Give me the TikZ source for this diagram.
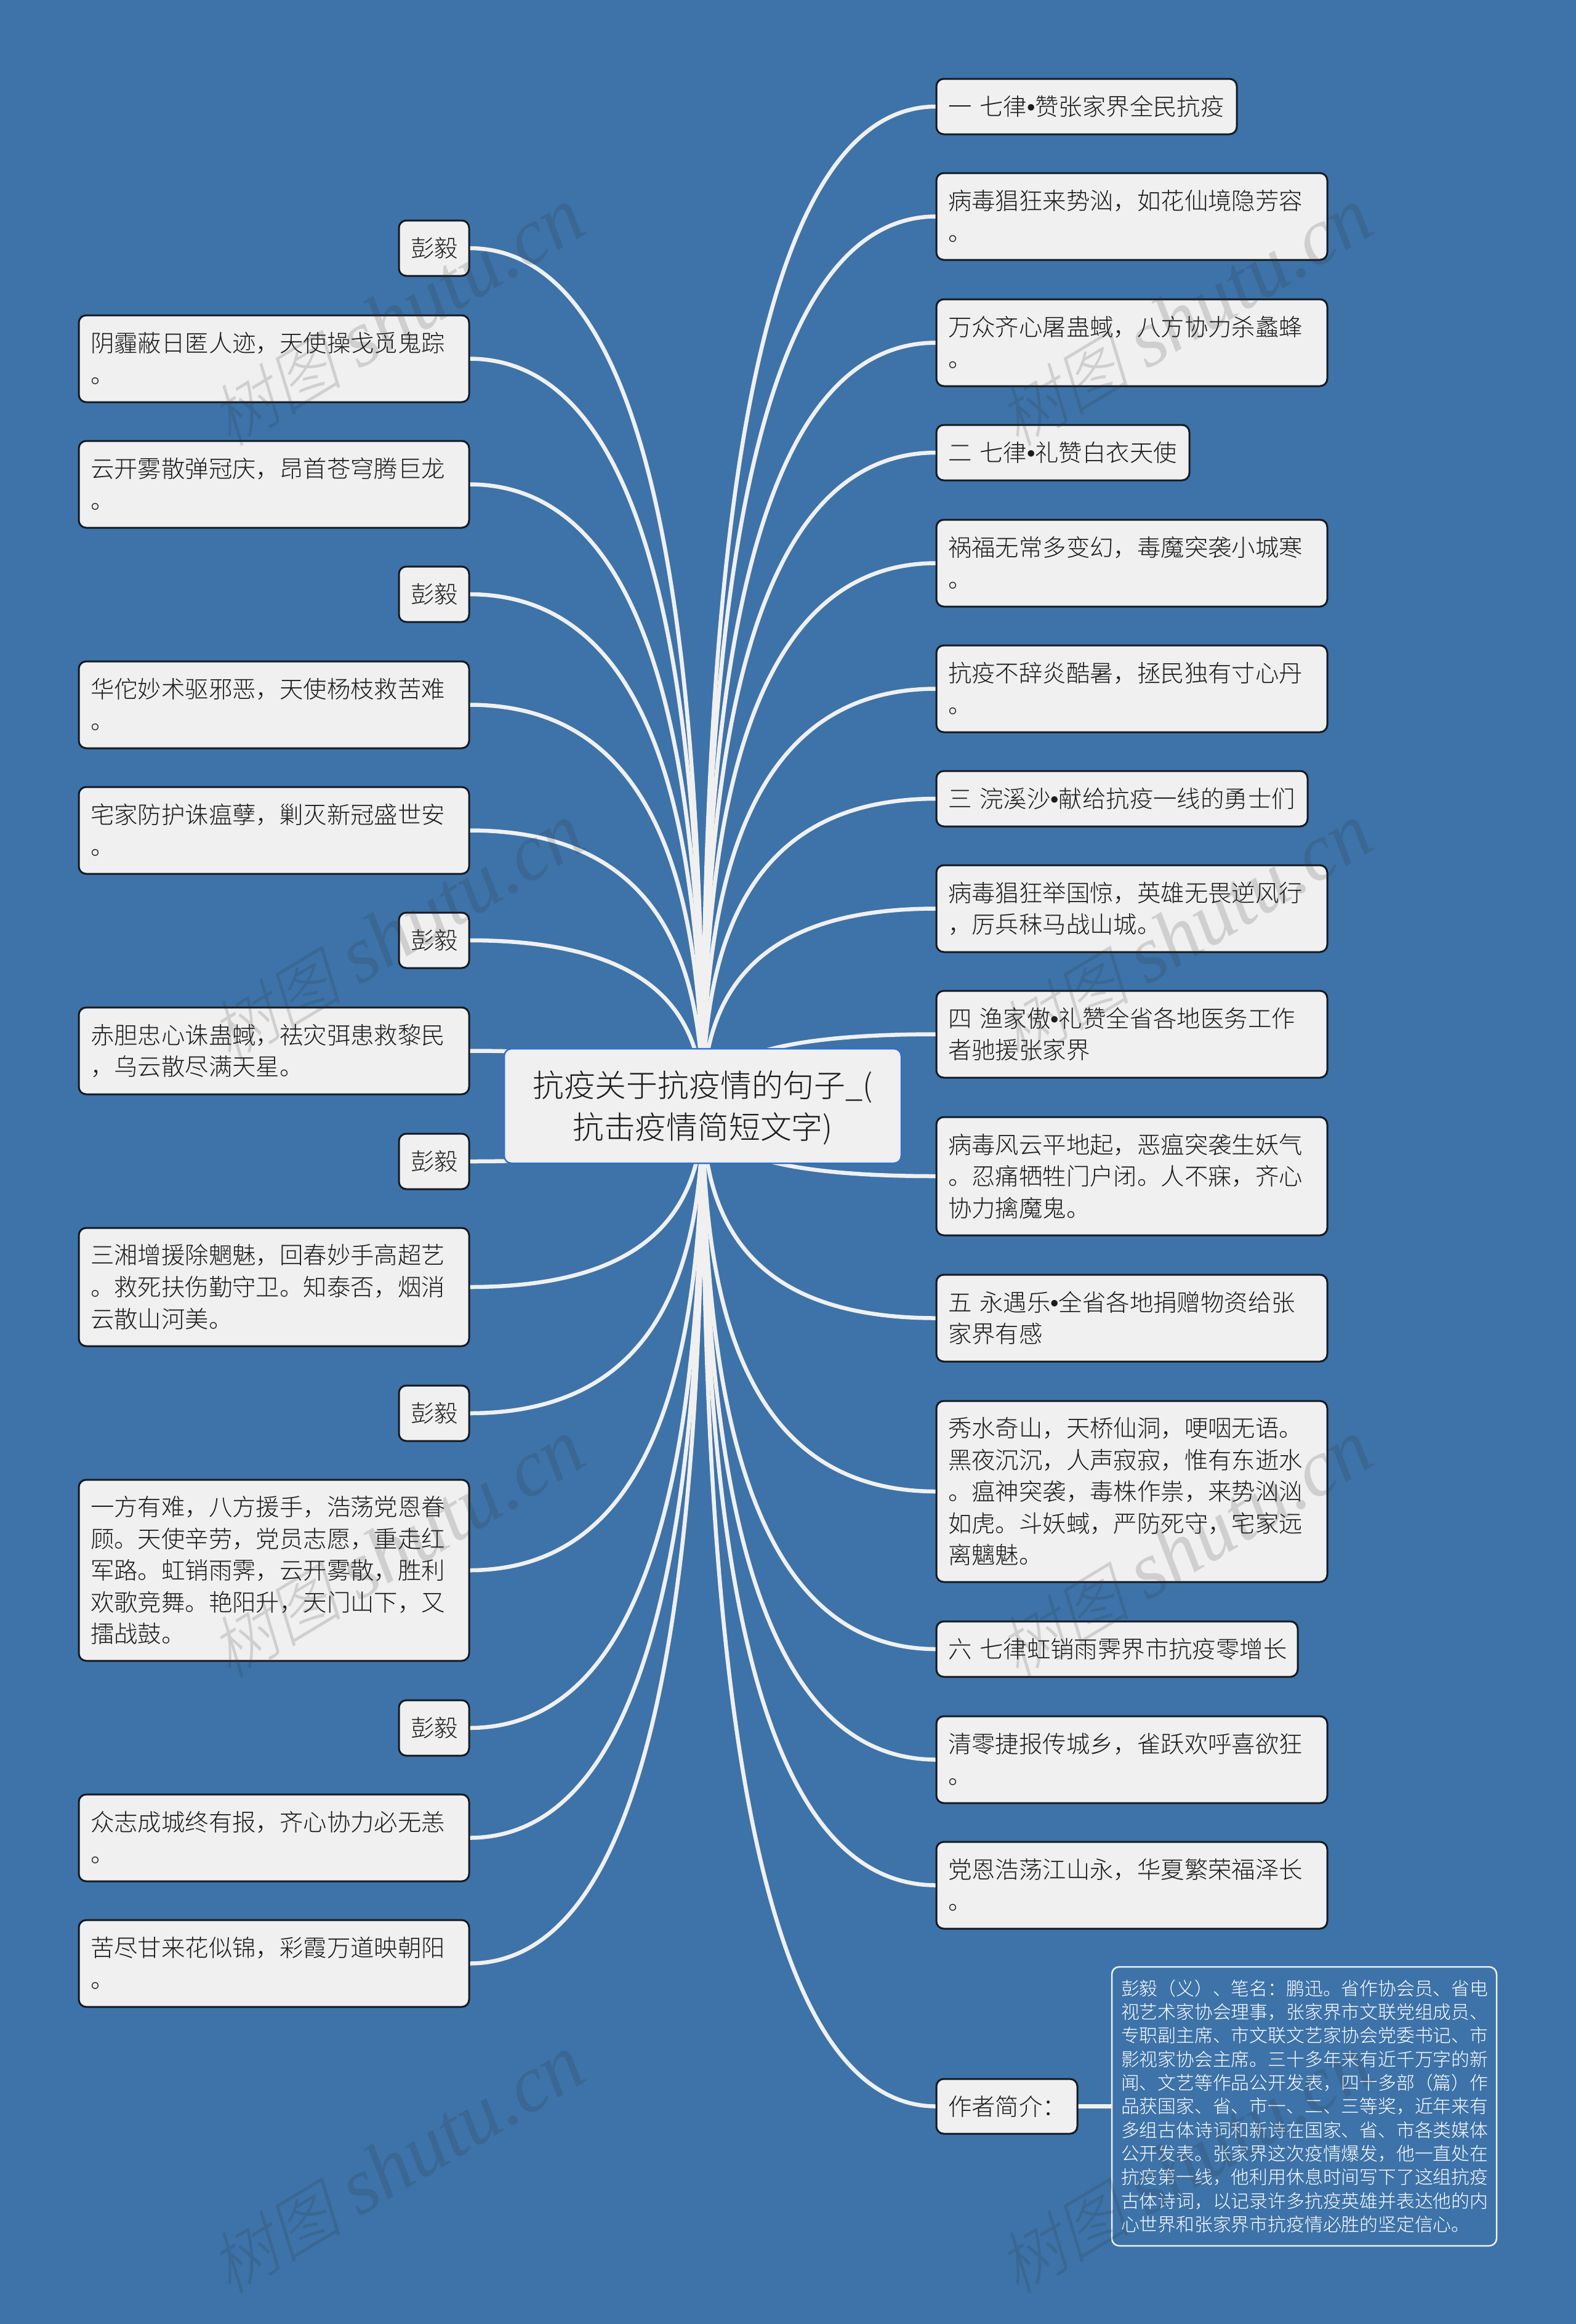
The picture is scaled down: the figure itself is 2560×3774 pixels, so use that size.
\documentclass[tikz,border=0pt]{standalone}
\usepackage{fontspec}
\setmainfont{Noto Sans CJK SC}[UprightFont=* Light]
\newfontfamily\wmcjk[FakeSlant=0.25]{Noto Sans CJK SC}[UprightFont=* Light]
\newfontfamily\wmlat{Liberation Serif Italic}
\newfontfamily\dotfont{Liberation Sans}
\newcommand\dt{{\dotfont •}}
\usetikzlibrary{calc,backgrounds}
\definecolor{bgblue}{HTML}{3D73A8}
\definecolor{boxfill}{HTML}{F0F0F0}
\definecolor{boxline}{HTML}{151A22}
\definecolor{inktext}{HTML}{1C1C1C}
\definecolor{rootline}{HTML}{2F70D0}
\definecolor{wmgray}{HTML}{303030}
\newcommand\mystrut{\rule[\dimexpr .38em-.5\baselineskip\relax]{0pt}{\baselineskip}}
\def\bxpad{0.38cm}
\tikzset{
  x=0.01cm,y=-0.01cm,
  basebox/.style={rectangle,rounded corners=0.12cm,inner ysep=0pt,align=left,outer sep=0pt},
  leaf/.style={basebox,draw=boxline,line width=0.03cm,fill=boxfill,text=inktext,inner xsep=0.19cm,
    font=\fontsize{10.92pt}{14.68pt}\selectfont},
  rootbox/.style={basebox,draw=rootline,line width=0.025cm,fill=boxfill,text=inktext,inner xsep=0.19cm,align=center,
    font=\fontsize{14.45pt}{19.35pt}\selectfont},
  biobox/.style={basebox,draw=boxfill,line width=0.025cm,fill=bgblue,text=white,inner xsep=0.15cm,
    font=\fontsize{8.48pt}{10.9pt}\selectfont},
  conn/.style={draw=boxfill,line width=0.065cm},
  wmark/.style={rotate=31,text=wmgray,text opacity=0.17,inner sep=0pt}
}
\newcommand\lnode[7]{% name style x1 y1 x2 y2 text
  \pgfmathsetlengthmacro\bxw{(#5-#3)*0.01cm}%
  \pgfmathsetlengthmacro\bxh{(#6-#4)*0.01cm}%
  \pgfmathsetlengthmacro\bxt{\bxw-\bxpad}%
  \pgfmathsetmacro\bxx{(#3+#5)/2}%
  \pgfmathsetmacro\bxy{(#4+#6)/2}%
  \node[#2,text width=\bxt,minimum width=\bxw,minimum height=\bxh] (#1) at (\bxx,\bxy) {\mystrut #7\mystrut};
}
\newcommand\linkR[1]{\draw[conn] (#1.west) .. controls ($(#1.west)!0.7!(root.center |- #1.west)$) and ($(root.center)!0.65!(root.center |- #1.west)$) .. (root.center);}
\newcommand\linkL[1]{\draw[conn] (#1.east) .. controls ($(#1.east)!0.7!(root.center |- #1.east)$) and ($(root.center)!0.65!(root.center |- #1.east)$) .. (root.center);}
\begin{document}
\begin{tikzpicture}
\useasboundingbox (0,0) rectangle (2560,3774);
\begin{pgfonlayer}{background}
  \fill[bgblue] (0,0) rectangle (2560,3774);
\end{pgfonlayer}
% root
\lnode{root}{rootbox}{819}{1703}{1464}{1889}{抗疫关于抗疫情的句子\_(\\抗击疫情简短文字)}
% left
\lnode{la}{leaf}{648}{358}{762}{448}{彭毅}
\lnode{lb}{leaf}{128}{512}{762}{653}{阴霾蔽日匿人迹，天使操戈觅鬼踪\\。}
\lnode{lc}{leaf}{128}{716}{762}{857}{云开雾散弹冠庆，昂首苍穹腾巨龙\\。}
\lnode{ld}{leaf}{648}{920}{762}{1010}{彭毅}
\lnode{le}{leaf}{128}{1074}{762}{1215}{华佗妙术驱邪恶，天使杨枝救苦难\\。}
\lnode{lf}{leaf}{128}{1278}{762}{1419}{宅家防护诛瘟孽，剿灭新冠盛世安\\。}
\lnode{lg}{leaf}{648}{1482}{762}{1572}{彭毅}
\lnode{lh}{leaf}{128}{1636}{762}{1777}{赤胆忠心诛蛊蜮，祛灾弭患救黎民\\，乌云散尽满天星。}
\lnode{li}{leaf}{648}{1841}{762}{1931}{彭毅}
\lnode{lj}{leaf}{128}{1994}{762}{2186}{三湘增援除魍魅，回春妙手高超艺\\。救死扶伤勤守卫。知泰否，烟消\\云散山河美。}
\lnode{lk}{leaf}{648}{2250}{762}{2340}{彭毅}
\lnode{ll}{leaf}{128}{2403}{762}{2697}{一方有难，八方援手，浩荡党恩眷\\顾。天使辛劳，党员志愿，重走红\\军路。虹销雨霁，云开雾散，胜利\\欢歌竞舞。艳阳升，天门山下，又\\擂战鼓。}
\lnode{lm}{leaf}{648}{2761}{762}{2851}{彭毅}
\lnode{ln}{leaf}{128}{2914}{762}{3055}{众志成城终有报，齐心协力必无恙\\。}
\lnode{lo}{leaf}{128}{3118}{762}{3259}{苦尽甘来花似锦，彩霞万道映朝阳\\。}
% right
\lnode{ra}{leaf}{1521}{128}{2009}{218}{一~七律\dt 赞张家界全民抗疫}
\lnode{rb}{leaf}{1521}{281}{2156}{422}{病毒猖狂来势汹，如花仙境隐芳容\\。}
\lnode{rc}{leaf}{1521}{486}{2156}{627}{万众齐心屠蛊蜮，八方协力杀蠡蜂\\。}
\lnode{rd}{leaf}{1521}{690}{1932}{780}{二~七律\dt 礼赞白衣天使}
\lnode{re}{leaf}{1521}{844}{2156}{985}{祸福无常多变幻，毒魔突袭小城寒\\。}
\lnode{rf}{leaf}{1521}{1048}{2156}{1189}{抗疫不辞炎酷暑，拯民独有寸心丹\\。}
\lnode{rg}{leaf}{1521}{1252}{2124}{1342}{三~浣溪沙\dt 献给抗疫一线的勇士们}
\lnode{rh}{leaf}{1521}{1405}{2156}{1546}{病毒猖狂举国惊，英雄无畏逆风行\\，厉兵秣马战山城。}
\lnode{ri}{leaf}{1521}{1609}{2156}{1750}{四~渔家傲\dt 礼赞全省各地医务工作\\者驰援张家界}
\lnode{rj}{leaf}{1521}{1814}{2156}{2006}{病毒风云平地起，恶瘟突袭生妖气\\。忍痛牺牲门户闭。人不寐，齐心\\协力擒魔鬼。}
\lnode{rk}{leaf}{1521}{2070}{2156}{2211}{五~永遇乐\dt 全省各地捐赠物资给张\\家界有感}
\lnode{rl}{leaf}{1521}{2275}{2156}{2569}{秀水奇山，天桥仙洞，哽咽无语。\\黑夜沉沉，人声寂寂，惟有东逝水\\。瘟神突袭，毒株作祟，来势汹汹\\如虎。斗妖蜮，严防死守，宅家远\\离魑魅。}
\lnode{rm}{leaf}{1521}{2633}{2108}{2723}{六~七律虹销雨霁界市抗疫零增长}
\lnode{rn}{leaf}{1521}{2787}{2156}{2928}{清零捷报传城乡，雀跃欢呼喜欲狂\\。}
\lnode{ro}{leaf}{1521}{2991}{2156}{3132}{党恩浩荡江山永，华夏繁荣福泽长\\。}
\lnode{rp}{leaf}{1521}{3376}{1750}{3465}{作者简介：}
\def\bxpad{0.30cm}
\lnode{bio}{biobox}{1806}{3194}{2431}{3647}{彭毅（义）、笔名：鹏迅。省作协会员、省电\\视艺术家协会理事，张家界市文联党组成员、\\专职副主席、市文联文艺家协会党委书记、市\\影视家协会主席。三十多年来有近千万字的新\\闻、文艺等作品公开发表，四十多部（篇）作\\品获国家、省、市一、二、三等奖，近年来有\\多组古体诗词和新诗在国家、省、市各类媒体\\公开发表。张家界这次疫情爆发，他一直处在\\抗疫第一线，他利用休息时间写下了这组抗疫\\古体诗词，以记录许多抗疫英雄并表达他的内\\心世界和张家界市抗疫情必胜的坚定信心。}
% connectors
\begin{pgfonlayer}{background}
  \foreach \n in {la,lb,lc,ld,le,lf,lg,lh,li,lj,lk,ll,lm,ln,lo} {\linkL{\n}}
  \foreach \n in {ra,rb,rc,rd,re,rf,rg,rh,ri,rj,rk,rl,rm,rn,ro,rp} {\linkR{\n}}
  \draw[conn] (rp.east) -- (bio.west);
\end{pgfonlayer}
% watermarks
\foreach \wn/\wx/\wy in {wa/644/516,wb/1924/516,wc/644/1516,wd/1924/1516,we/644/2516,wf/1924/2516,wg/644/3516,wh/1924/3516}
  \node[wmark] (\wn) at (\wx,\wy) {{\fontsize{31pt}{36pt}\selectfont\wmcjk 树图}\hspace{8pt}{\fontsize{37pt}{40pt}\selectfont\wmlat shutu.cn}};
\end{tikzpicture}
\end{document}
